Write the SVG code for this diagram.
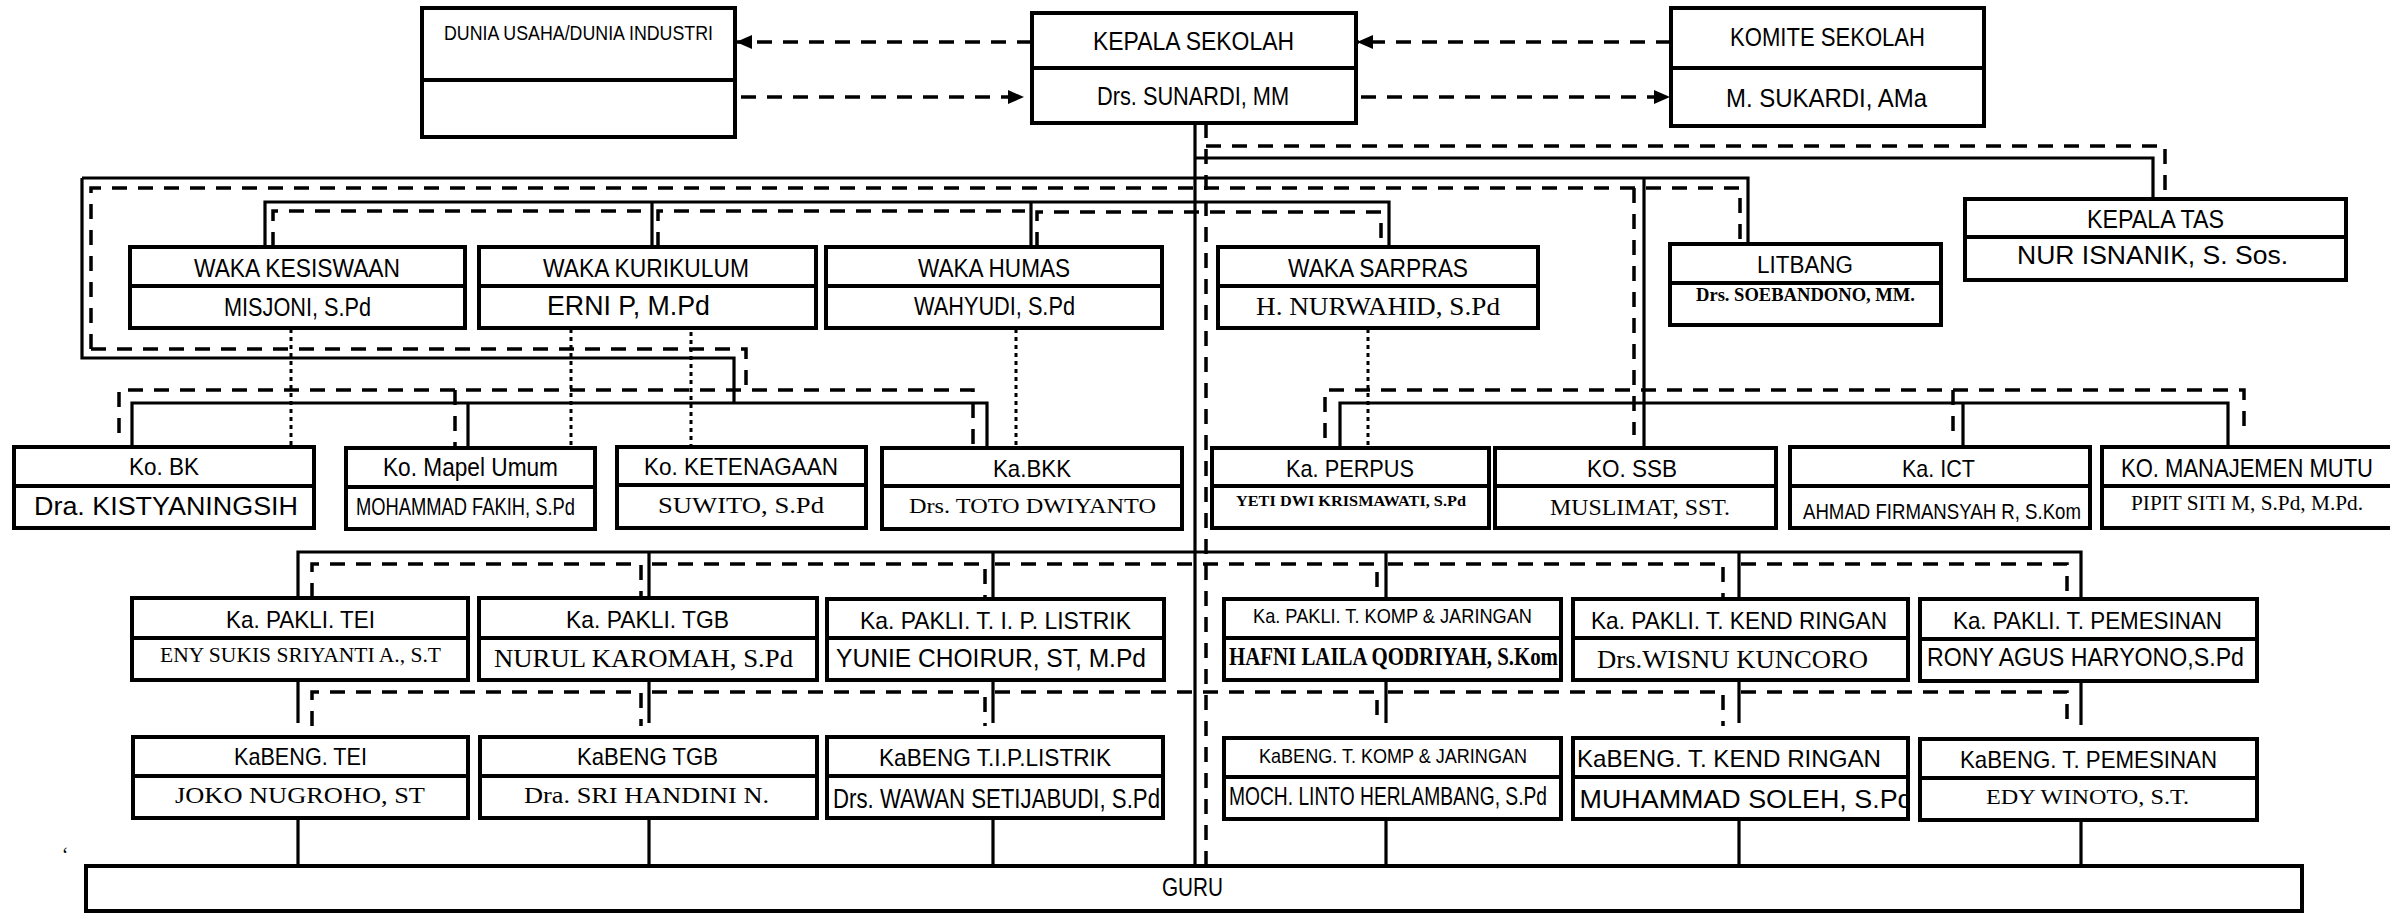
<svg xmlns="http://www.w3.org/2000/svg" width="2390" height="913" viewBox="0 0 2390 913">
<style>
.bg{fill:#fff}
.b{fill:#fff;stroke:#000;stroke-width:4}
.bn{fill:none;stroke:#000;stroke-width:4}
.dv{stroke:#000;stroke-width:4}
.s{fill:none;stroke:#000;stroke-width:3.2}
.d{fill:none;stroke:#000;stroke-width:3.5;stroke-dasharray:15 11}
.o{fill:none;stroke:#000;stroke-width:3;stroke-dasharray:4 4}
text{fill:#000;text-anchor:middle}
.n{font-family:"Liberation Sans Narrow","Liberation Sans",Arial,sans-serif}
.a{font-family:"Liberation Sans",Arial,sans-serif}
.r{font-family:"Liberation Serif","Times New Roman",serif}
.rb{font-family:"Liberation Serif","Times New Roman",serif;font-weight:bold}
</style>
<defs>
<marker id="ah" markerUnits="userSpaceOnUse" markerWidth="17" markerHeight="15" refX="16" refY="7" orient="auto">
<path d="M0,0 L16,7 L0,14 z" fill="#000"/>
</marker>
</defs>
<rect class="bg" x="0" y="0" width="2390" height="913"/>

<g id="connectors">
<path class="d" d="M1032,42 H736" marker-end="url(#ah)"/>
<path class="d" d="M741,97 H1024" marker-end="url(#ah)"/>
<path class="d" d="M1671,42 H1357" marker-end="url(#ah)"/>
<path class="d" d="M1361,97 H1670" marker-end="url(#ah)"/>
<path class="s" d="M1195,123 V866"/>
<path class="s" d="M1195,158 H2153 V199"/>
<path class="s" d="M82,178 H1748 V244"/>
<path class="s" d="M82,178 V358 H734 V403"/>
<path class="s" d="M1644,178 V447"/>
<path class="s" d="M265,247 V202 H1389 V247 M652,202 V247 M1031,202 V247"/>
<path class="s" d="M132,447 V403 H987 V448 M468,403 V448"/>
<path class="s" d="M1340,448 V403 H2228 V447 M1963,403 V447"/>
<path class="s" d="M298,598 V552 H2081 V599 M649,552 V598 M993,552 V599 M1386,552 V599 M1739,552 V599"/>
<path class="s" d="M298,680 V723 M649,680 V723 M993,680 V723 M1386,680 V723 M1739,680 V723 M2081,681 V725"/>
<path class="s" d="M298,818 V866 M649,818 V866 M993,818 V866 M1386,819 V866 M1739,819 V866 M2081,820 V866"/>
<path class="d" d="M1206,123 V866"/>
<path class="d" d="M1206,146 H2165 V199"/>
<path class="d" d="M91,349 V188 H1740 V244"/>
<path class="d" d="M91,349 H746 V390"/>
<path class="d" d="M1634,188 V435"/>
<path class="d" d="M273,247 V211 H641 M658,247 V211 H1025 M1037,247 V212 H1381 V247"/>
<path class="d" d="M119,433 V390 H973 V447 M455,390 V447"/>
<path class="d" d="M1325,438 V390 H2244 V433 M1953,390 V433"/>
<path class="d" d="M312,598 V564 H641 V598 M652,564 H985 V598 M995,564 H1377 V598 M1388,564 H1723 V598 M1741,564 H2067 V598"/>
<path class="d" d="M312,726 V692 H641 V726 M652,692 H985 V726 M995,692 H1377 V726 M1388,692 H1723 V726 M1741,692 H2067 V727"/>
<path class="o" d="M291,329 V447 M571,329 V447 M691,324 V447 M1016,329 V447 M1368,329 V447"/>
</g>

<g id="dunia-usaha">
<rect class="b" x="422" y="8" width="313" height="129"/>
<line class="dv" x1="422" y1="80" x2="735" y2="80"/>
<text class="n" x="578.5" y="40" font-size="20" textLength="269" lengthAdjust="spacingAndGlyphs">DUNIA USAHA/DUNIA INDUSTRI</text>
</g>
<g id="kepala-sekolah">
<rect class="b" x="1032" y="13" width="324" height="110"/>
<line class="dv" x1="1032" y1="68" x2="1356" y2="68"/>
<text class="n" x="1193.5" y="50" font-size="25" textLength="201" lengthAdjust="spacingAndGlyphs">KEPALA SEKOLAH</text>
<text class="n" x="1193" y="105" font-size="26" textLength="192" lengthAdjust="spacingAndGlyphs">Drs. SUNARDI, MM</text>
</g>
<g id="komite-sekolah">
<rect class="b" x="1671" y="8" width="313" height="118"/>
<line class="dv" x1="1671" y1="68" x2="1984" y2="68"/>
<text class="n" x="1827.5" y="46" font-size="26" textLength="195" lengthAdjust="spacingAndGlyphs">KOMITE SEKOLAH</text>
<text class="n" x="1826.5" y="107" font-size="26" textLength="201" lengthAdjust="spacingAndGlyphs">M. SUKARDI, AMa</text>
</g>

<g id="waka-kesiswaan">
<rect class="b" x="130" y="247" width="335" height="81"/>
<line class="dv" x1="130" y1="286" x2="465" y2="286"/>
<text class="n" x="297" y="277" font-size="26" textLength="206" lengthAdjust="spacingAndGlyphs">WAKA KESISWAAN</text>
<text class="n" x="297.5" y="316" font-size="26" textLength="147" lengthAdjust="spacingAndGlyphs">MISJONI, S.Pd</text>
</g>
<g id="waka-kurikulum">
<rect class="b" x="479" y="247" width="337" height="81"/>
<line class="dv" x1="479" y1="286" x2="816" y2="286"/>
<text class="n" x="646" y="277" font-size="26" textLength="206" lengthAdjust="spacingAndGlyphs">WAKA KURIKULUM</text>
<text class="n" x="628.5" y="315" font-size="27" textLength="163" lengthAdjust="spacingAndGlyphs">ERNI P, M.Pd</text>
</g>
<g id="waka-humas">
<rect class="b" x="826" y="247" width="336" height="81"/>
<line class="dv" x1="826" y1="286" x2="1162" y2="286"/>
<text class="n" x="994" y="277" font-size="26" textLength="152" lengthAdjust="spacingAndGlyphs">WAKA HUMAS</text>
<text class="n" x="994.5" y="315" font-size="26" textLength="161" lengthAdjust="spacingAndGlyphs">WAHYUDI, S.Pd</text>
</g>
<g id="waka-sarpras">
<rect class="b" x="1218" y="247" width="320" height="81"/>
<line class="dv" x1="1218" y1="286" x2="1538" y2="286"/>
<text class="n" x="1378" y="277" font-size="26" textLength="180" lengthAdjust="spacingAndGlyphs">WAKA SARPRAS</text>
<text class="r" x="1378" y="315" font-size="26" textLength="244" lengthAdjust="spacingAndGlyphs">H. NURWAHID, S.Pd</text>
</g>
<g id="litbang">
<rect class="b" x="1670" y="244" width="271" height="81"/>
<line class="dv" x1="1670" y1="283" x2="1941" y2="283"/>
<text class="n" x="1805" y="273" font-size="23" textLength="96" lengthAdjust="spacingAndGlyphs">LITBANG</text>
<text class="rb" x="1805.5" y="301" font-size="19" textLength="219" lengthAdjust="spacingAndGlyphs">Drs. SOEBANDONO, MM.</text>
</g>
<g id="kepala-tas">
<rect class="b" x="1965" y="199" width="381" height="81"/>
<line class="dv" x1="1965" y1="237" x2="2346" y2="237"/>
<text class="n" x="2155.5" y="228" font-size="26" textLength="137" lengthAdjust="spacingAndGlyphs">KEPALA TAS</text>
<text class="a" x="2152.5" y="264" font-size="26" textLength="271" lengthAdjust="spacingAndGlyphs">NUR ISNANIK, S. Sos.</text>
</g>

<g id="ko-bk">
<rect class="b" x="14" y="447" width="300" height="81"/>
<line class="dv" x1="14" y1="486" x2="314" y2="486"/>
<text class="n" x="164" y="475" font-size="24" textLength="70" lengthAdjust="spacingAndGlyphs">Ko. BK</text>
<text class="a" x="166" y="515" font-size="25" textLength="264" lengthAdjust="spacingAndGlyphs">Dra. KISTYANINGSIH</text>
</g>
<g id="ko-mapel-umum">
<rect class="b" x="346" y="448" width="249" height="81"/>
<line class="dv" x1="346" y1="487" x2="595" y2="487"/>
<text class="n" x="470.5" y="476" font-size="25" textLength="175" lengthAdjust="spacingAndGlyphs">Ko. Mapel Umum</text>
<text class="n" x="465.5" y="515" font-size="24" textLength="219" lengthAdjust="spacingAndGlyphs">MOHAMMAD FAKIH, S.Pd</text>
</g>
<g id="ko-ketenagaan">
<rect class="b" x="617" y="447" width="249" height="81"/>
<line class="dv" x1="617" y1="485" x2="866" y2="485"/>
<text class="n" x="741" y="475" font-size="24" textLength="194" lengthAdjust="spacingAndGlyphs">Ko. KETENAGAAN</text>
<text class="r" x="741" y="513" font-size="23" textLength="166" lengthAdjust="spacingAndGlyphs">SUWITO, S.Pd</text>
</g>
<g id="ka-bkk">
<rect class="b" x="882" y="448" width="300" height="81"/>
<line class="dv" x1="882" y1="486" x2="1182" y2="486"/>
<text class="n" x="1032" y="477" font-size="24" textLength="78" lengthAdjust="spacingAndGlyphs">Ka.BKK</text>
<text class="r" x="1032.5" y="513" font-size="22" textLength="247" lengthAdjust="spacingAndGlyphs">Drs. TOTO DWIYANTO</text>
</g>
<g id="ka-perpus">
<rect class="b" x="1212" y="448" width="277" height="80"/>
<line class="dv" x1="1212" y1="486" x2="1489" y2="486"/>
<text class="n" x="1350" y="477" font-size="24" textLength="128" lengthAdjust="spacingAndGlyphs">Ka. PERPUS</text>
<text class="rb" x="1351" y="506" font-size="14" textLength="230" lengthAdjust="spacingAndGlyphs">YETI DWI KRISMAWATI, S.Pd</text>
</g>
<g id="ko-ssb">
<rect class="b" x="1495" y="448" width="281" height="80"/>
<line class="dv" x1="1495" y1="486" x2="1776" y2="486"/>
<text class="n" x="1632" y="477" font-size="24" textLength="90" lengthAdjust="spacingAndGlyphs">KO. SSB</text>
<text class="r" x="1640" y="515" font-size="24" textLength="180" lengthAdjust="spacingAndGlyphs">MUSLIMAT, SST.</text>
</g>
<g id="ka-ict">
<rect class="b" x="1790" y="447" width="300" height="81"/>
<line class="dv" x1="1790" y1="486" x2="2090" y2="486"/>
<text class="n" x="1938.5" y="477" font-size="24" textLength="73" lengthAdjust="spacingAndGlyphs">Ka. ICT</text>
<text class="a" x="1942" y="519" font-size="22" textLength="278" lengthAdjust="spacingAndGlyphs">AHMAD FIRMANSYAH R, S.Kom</text>
</g>
<g id="ko-manajemen-mutu">
<rect class="b" x="2102" y="447" width="300" height="81"/>
<line class="dv" x1="2102" y1="486" x2="2402" y2="486"/>
<text class="a" x="2247" y="477" font-size="25" textLength="252" lengthAdjust="spacingAndGlyphs">KO. MANAJEMEN MUTU</text>
<text class="r" x="2247" y="510" font-size="21" textLength="232" lengthAdjust="spacingAndGlyphs">PIPIT SITI M, S.Pd, M.Pd.</text>
</g>

<g id="pakli-tei">
<rect class="b" x="132" y="598" width="336" height="82"/>
<line class="dv" x1="132" y1="638" x2="468" y2="638"/>
<text class="n" x="300.5" y="628" font-size="24" textLength="149" lengthAdjust="spacingAndGlyphs">Ka. PAKLI. TEI</text>
<text class="r" x="300.5" y="662" font-size="20" textLength="281" lengthAdjust="spacingAndGlyphs">ENY SUKIS SRIYANTI A., S.T</text>
</g>
<g id="pakli-tgb">
<rect class="b" x="479" y="598" width="338" height="82"/>
<line class="dv" x1="479" y1="638" x2="817" y2="638"/>
<text class="n" x="647.5" y="628" font-size="24" textLength="163" lengthAdjust="spacingAndGlyphs">Ka. PAKLI. TGB</text>
<text class="r" x="643.5" y="667" font-size="25" textLength="299" lengthAdjust="spacingAndGlyphs">NURUL KAROMAH, S.Pd</text>
</g>
<g id="pakli-listrik">
<rect class="b" x="827" y="599" width="337" height="81"/>
<line class="dv" x1="827" y1="638" x2="1164" y2="638"/>
<text class="n" x="995.5" y="629" font-size="24" textLength="271" lengthAdjust="spacingAndGlyphs">Ka. PAKLI. T. I. P. LISTRIK</text>
<text class="n" x="991" y="667" font-size="26" textLength="310" lengthAdjust="spacingAndGlyphs">YUNIE CHOIRUR, ST, M.Pd</text>
</g>
<g id="pakli-komp">
<rect class="b" x="1224" y="599" width="337" height="81"/>
<line class="dv" x1="1224" y1="638" x2="1561" y2="638"/>
<text class="n" x="1392.5" y="623" font-size="21" textLength="279" lengthAdjust="spacingAndGlyphs">Ka. PAKLI. T. KOMP &amp; JARINGAN</text>
<text class="rb" x="1393.5" y="665" font-size="26" textLength="329" lengthAdjust="spacingAndGlyphs">HAFNI LAILA QODRIYAH, S.Kom</text>
</g>
<g id="pakli-kend">
<rect class="b" x="1573" y="599" width="335" height="81"/>
<line class="dv" x1="1573" y1="638" x2="1908" y2="638"/>
<text class="n" x="1739" y="629" font-size="24" textLength="296" lengthAdjust="spacingAndGlyphs">Ka. PAKLI. T. KEND RINGAN</text>
<text class="r" x="1732.5" y="668" font-size="25" textLength="271" lengthAdjust="spacingAndGlyphs">Drs.WISNU KUNCORO</text>
</g>
<g id="pakli-pemesinan">
<rect class="b" x="1920" y="599" width="337" height="82"/>
<line class="dv" x1="1920" y1="639" x2="2257" y2="639"/>
<text class="n" x="2087.5" y="629" font-size="24" textLength="269" lengthAdjust="spacingAndGlyphs">Ka. PAKLI. T. PEMESINAN</text>
<text class="n" x="2085.5" y="666" font-size="25" textLength="317" lengthAdjust="spacingAndGlyphs">RONY AGUS HARYONO,S.Pd</text>
</g>

<g id="kabeng-tei">
<rect class="b" x="133" y="737" width="335" height="81"/>
<line class="dv" x1="133" y1="776" x2="468" y2="776"/>
<text class="n" x="300.5" y="765" font-size="24" textLength="133" lengthAdjust="spacingAndGlyphs">KaBENG. TEI</text>
<text class="r" x="300" y="803" font-size="23" textLength="250" lengthAdjust="spacingAndGlyphs">JOKO NUGROHO, ST</text>
</g>
<g id="kabeng-tgb">
<rect class="b" x="480" y="737" width="337" height="81"/>
<line class="dv" x1="480" y1="776" x2="817" y2="776"/>
<text class="n" x="647.5" y="765" font-size="24" textLength="141" lengthAdjust="spacingAndGlyphs">KaBENG TGB</text>
<text class="r" x="646.5" y="803" font-size="23" textLength="245" lengthAdjust="spacingAndGlyphs">Dra. SRI HANDINI N.</text>
</g>
<g id="kabeng-listrik">
<rect class="b" x="827" y="737" width="336" height="81"/>
<line class="dv" x1="827" y1="776" x2="1163" y2="776"/>
<text class="n" x="995" y="766" font-size="24" textLength="232" lengthAdjust="spacingAndGlyphs">KaBENG T.I.P.LISTRIK</text>
<text class="n" x="996.5" y="808" font-size="27" textLength="327" lengthAdjust="spacingAndGlyphs">Drs. WAWAN SETIJABUDI, S.Pd</text>
</g>
<g id="kabeng-komp">
<rect class="b" x="1224" y="738" width="337" height="81"/>
<line class="dv" x1="1224" y1="777" x2="1561" y2="777"/>
<text class="n" x="1393" y="763" font-size="21" textLength="268" lengthAdjust="spacingAndGlyphs">KaBENG. T. KOMP &amp; JARINGAN</text>
<text class="n" x="1388" y="805" font-size="26" textLength="318" lengthAdjust="spacingAndGlyphs">MOCH. LINTO HERLAMBANG, S.Pd</text>
</g>
<g id="kabeng-kend">
<rect class="b" x="1573" y="738" width="335" height="81"/>
<text class="n" x="1746" y="808" font-size="26" textLength="333" lengthAdjust="spacingAndGlyphs">MUHAMMAD SOLEH, S.Pd</text>
<rect class="bn" x="1573" y="738" width="335" height="81"/>
<rect class="bg" x="1910" y="780" width="9" height="36"/>
<line class="dv" x1="1573" y1="777" x2="1908" y2="777"/>
<text class="n" x="1729" y="767" font-size="24" textLength="304" lengthAdjust="spacingAndGlyphs">KaBENG. T. KEND RINGAN</text>
</g>
<g id="kabeng-pemesinan">
<rect class="b" x="1920" y="739" width="337" height="81"/>
<line class="dv" x1="1920" y1="778" x2="2257" y2="778"/>
<text class="n" x="2088.5" y="768" font-size="24" textLength="257" lengthAdjust="spacingAndGlyphs">KaBENG. T. PEMESINAN</text>
<text class="r" x="2087.5" y="804" font-size="22" textLength="203" lengthAdjust="spacingAndGlyphs">EDY WINOTO, S.T.</text>
</g>

<g id="guru">
<rect class="b" x="86" y="866" width="2216" height="45"/>
<text class="n" x="1192.5" y="896" font-size="25" textLength="61" lengthAdjust="spacingAndGlyphs">GURU</text>
</g>
<text class="r" x="65" y="862" font-size="20">‘</text>
</svg>
